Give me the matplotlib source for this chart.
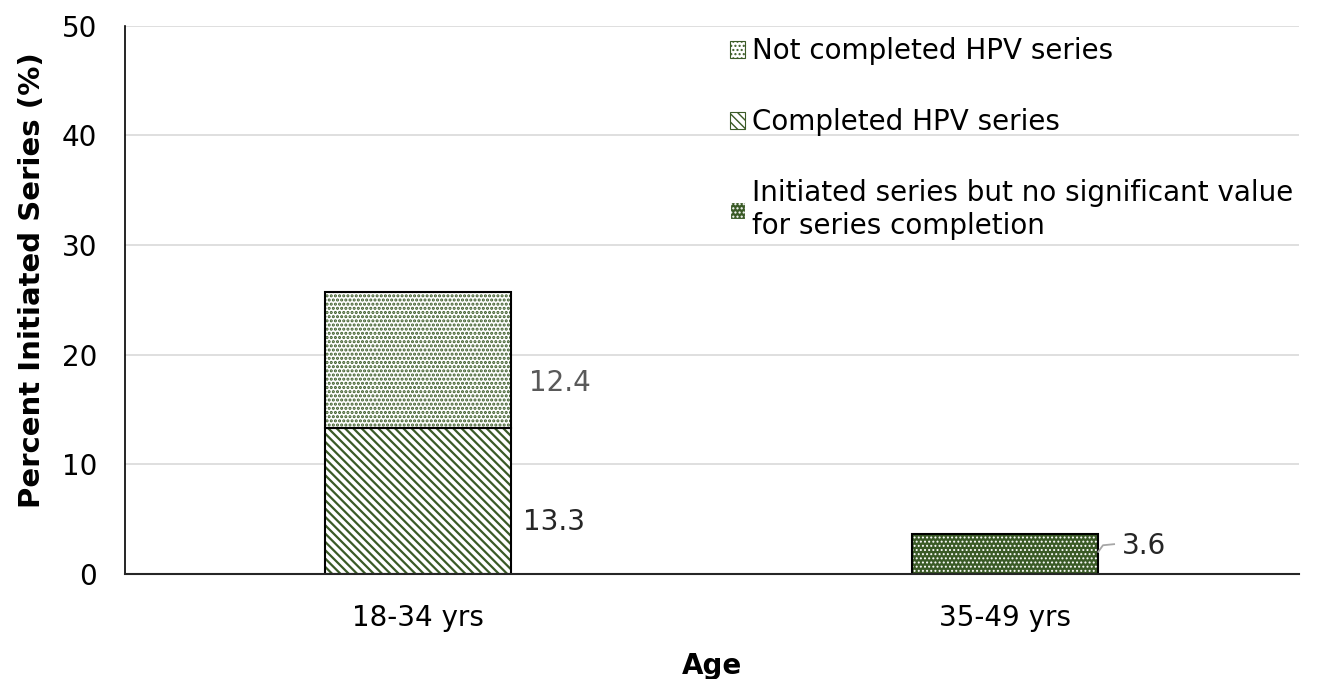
import numpy as np
import matplotlib as mpl
import matplotlib.pyplot as plt
import matplotlib.patches as mpatches

plt.rcParams['font.family'] = ['DejaVu Sans']

# Data
categories = ["18-34 yrs", "35-49 yrs"]
completed = [13.3, 0]
not_completed = [12.4, 0]
initiated_ns = [0, 3.6]

green = "#3a5a26"
x = np.arange(len(categories))
w = 0.317
fs = 20

fig, ax = plt.subplots(figsize=(13.43, 6.79), dpi=100)
fig.subplots_adjust(left=0.093, right=0.967, top=0.962, bottom=0.155)

stripe = "\\" * 4
dots = "...."

# completed (diagonal stripes)
with mpl.rc_context({'hatch.linewidth': 1.6}):
    ax.bar(x[0], completed[0], w, color="white", edgecolor=green, hatch=stripe, linewidth=0)
    h_stripe = mpatches.Patch(facecolor="white", edgecolor=green, hatch=stripe, linewidth=0.8)
with mpl.rc_context({'hatch.linewidth': 1.5}):
    # not completed (dots)
    ax.bar(x[0], not_completed[0], w, bottom=completed[0], color="white", edgecolor=green,
           hatch=dots, linewidth=0)
    h_dots = mpatches.Patch(facecolor="white", edgecolor=green, hatch=dots, linewidth=0.8)
with mpl.rc_context({'hatch.linewidth': 0.9}):
    # initiated, no significant value
    ax.bar(x[1], initiated_ns[1], w, color=green, edgecolor="white", hatch=dots, linewidth=0)
    h_ns = mpatches.Patch(facecolor=green, edgecolor="white", hatch=dots, linewidth=0.8)

# outlines
ax.bar(x[0], completed[0], w, fill=False, edgecolor="black", linewidth=1.5)
ax.bar(x[0], not_completed[0], w, bottom=completed[0], fill=False, edgecolor="black", linewidth=1.5)
ax.bar(x[1], initiated_ns[1], w, fill=False, edgecolor="black", linewidth=1.5)

# labels
ax.text(x[0] + w / 2 + 0.02, 4.7, f"{completed[0]}", fontsize=fs, va="center", color="#262626")
ax.text(x[0] + w / 2 + 0.03, 17.4, f"{not_completed[0]}", fontsize=fs, va="center", color="#595959")
ax.plot([x[1] + w / 2, x[1] + w / 2 + 0.008, x[1] + w / 2 + 0.027], [2.0, 2.6, 2.7],
        color="#a6a6a6", linewidth=1.3)
ax.text(x[1] + w / 2 + 0.04, 2.5, f"{initiated_ns[1]}", fontsize=fs, va="center", color="#262626")

ax.set_xlim(-0.5, 1.5)
ax.set_ylim(0, 50)
ax.set_yticks(np.arange(0, 51, 10))
ax.set_xticks(x)
ax.set_xticklabels(categories, fontsize=fs)
ax.tick_params(axis="y", labelsize=fs, length=0, pad=20)
ax.tick_params(axis="x", length=0, pad=22)
ax.yaxis.grid(True, color="#d9d9d9", linewidth=1.2)
ax.set_axisbelow(True)
for s in ["top", "right"]:
    ax.spines[s].set_visible(False)
ax.spines["left"].set_color("black")
ax.spines["left"].set_linewidth(1.2)
ax.spines["bottom"].set_color("#262626")
ax.spines["bottom"].set_linewidth(1.5)

ax.set_ylabel("Percent Initiated Series (%)", fontsize=21, fontweight="bold")
ax.yaxis.set_label_coords(-0.067, 0.536)
ax.set_xlabel("Age", fontsize=fs, fontweight="bold", labelpad=14)

labels = ["Not completed HPV series", "Completed HPV series",
          "Initiated series but no significant value\nfor series completion"]
leg = ax.legend([h_dots, h_stripe, h_ns], labels, loc="upper left", bbox_to_anchor=(0.494, 1.025),
                frameon=False, fontsize=fs, handlelength=0.55, handleheight=0.55,
                handletextpad=0.25, labelspacing=1.55)

fig.savefig("out.png", dpi=100)
